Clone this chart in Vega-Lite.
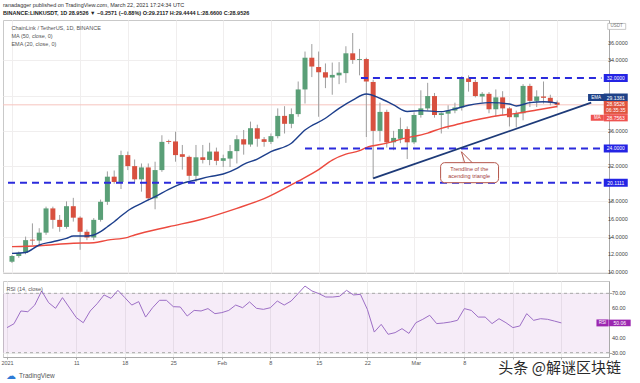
{
"$schema":"https://vega.github.io/schema/vega-lite/v6.json",
"padding":{"left":0,"top":2,"right":0,"bottom":0},
"background":"white",
"spacing":4,
"title":{"text":"ranadagger published on TradingView.com, March 22, 2021 17:24:34 UTC","subtitle":"BINANCE:LINKUSDT, 1D  28.9526 ▼ −0.2571 (−0.88%)  O:29.2117  H:29.4444  L:28.6600  C:28.9526","anchor":"start","frame":"group","font":"Liberation Sans","fontSize":5.5,"fontWeight":"normal","color":"#333333","subtitleFont":"Liberation Sans","subtitleFontSize":5.5,"subtitleColor":"#222222","subtitleFontWeight":"bold","subtitlePadding":3,"offset":3},
"resolve":{"scale":{"x":"independent","y":"independent"}},
"config":{"font":"Liberation Sans","view":{"stroke":"#c9c9c9"},"axis":{"labelFont":"Liberation Sans"}},
"datasets":{
"candles":[
{"date":"2021-01-01","o":11.15,"h":11.9,"l":11.0,"c":11.8},
{"date":"2021-01-02","o":11.8,"h":12.3,"l":11.6,"c":12.15},
{"date":"2021-01-03","o":12.15,"h":14.0,"l":12.0,"c":13.6},
{"date":"2021-01-04","o":13.65,"h":15.5,"l":13.05,"c":13.55},
{"date":"2021-01-05","o":13.55,"h":14.95,"l":13.05,"c":14.45},
{"date":"2021-01-06","o":14.45,"h":17.4,"l":14.2,"c":17.2},
{"date":"2021-01-07","o":17.2,"h":17.4,"l":14.9,"c":15.9},
{"date":"2021-01-08","o":15.9,"h":16.45,"l":14.55,"c":15.1},
{"date":"2021-01-09","o":15.1,"h":18.0,"l":14.9,"c":17.45},
{"date":"2021-01-10","o":17.45,"h":18.4,"l":15.7,"c":16.15},
{"date":"2021-01-11","o":16.15,"h":16.3,"l":12.5,"c":14.55},
{"date":"2021-01-12","o":14.55,"h":14.8,"l":13.6,"c":13.9},
{"date":"2021-01-13","o":13.9,"h":16.1,"l":13.6,"c":15.9},
{"date":"2021-01-14","o":15.9,"h":18.2,"l":15.7,"c":17.95},
{"date":"2021-01-15","o":17.95,"h":21.4,"l":17.6,"c":20.8},
{"date":"2021-01-16","o":20.8,"h":21.5,"l":20.0,"c":20.2},
{"date":"2021-01-17","o":20.2,"h":23.75,"l":19.4,"c":23.25},
{"date":"2021-01-18","o":23.25,"h":23.65,"l":21.55,"c":22.0},
{"date":"2021-01-19","o":22.0,"h":22.75,"l":20.2,"c":20.5},
{"date":"2021-01-20","o":20.5,"h":22.3,"l":19.1,"c":21.85},
{"date":"2021-01-21","o":21.85,"h":22.3,"l":18.1,"c":18.35},
{"date":"2021-01-22","o":18.35,"h":22.5,"l":17.1,"c":21.55},
{"date":"2021-01-23","o":21.55,"h":25.5,"l":21.35,"c":24.75},
{"date":"2021-01-24","o":24.85,"h":25.0,"l":24.5,"c":24.75},
{"date":"2021-01-25","o":24.8,"h":25.9,"l":22.5,"c":23.25},
{"date":"2021-01-26","o":23.35,"h":24.4,"l":21.6,"c":23.05},
{"date":"2021-01-27","o":23.05,"h":23.2,"l":20.4,"c":20.9},
{"date":"2021-01-28","o":20.9,"h":24.4,"l":20.2,"c":23.0},
{"date":"2021-01-29","o":23.0,"h":24.4,"l":22.3,"c":22.7},
{"date":"2021-01-30","o":22.7,"h":24.65,"l":22.1,"c":23.65},
{"date":"2021-01-31","o":23.65,"h":24.1,"l":22.1,"c":22.6},
{"date":"2021-02-01","o":22.6,"h":23.3,"l":21.9,"c":22.9},
{"date":"2021-02-02","o":22.85,"h":24.4,"l":21.9,"c":23.7},
{"date":"2021-02-03","o":23.7,"h":25.5,"l":22.3,"c":25.05},
{"date":"2021-02-04","o":25.05,"h":26.1,"l":23.3,"c":24.45},
{"date":"2021-02-05","o":24.45,"h":27.05,"l":24.2,"c":26.3},
{"date":"2021-02-06","o":26.3,"h":26.7,"l":24.2,"c":25.1},
{"date":"2021-02-07","o":25.05,"h":25.3,"l":24.2,"c":24.75},
{"date":"2021-02-08","o":24.75,"h":25.7,"l":24.5,"c":25.4},
{"date":"2021-02-09","o":25.4,"h":28.55,"l":25.15,"c":27.7},
{"date":"2021-02-10","o":27.7,"h":28.8,"l":25.7,"c":26.8},
{"date":"2021-02-11","o":26.8,"h":28.55,"l":26.3,"c":27.9},
{"date":"2021-02-12","o":27.9,"h":31.6,"l":27.6,"c":30.7},
{"date":"2021-02-13","o":30.7,"h":35.0,"l":29.1,"c":34.3},
{"date":"2021-02-14","o":34.3,"h":35.85,"l":32.1,"c":33.3},
{"date":"2021-02-15","o":33.25,"h":35.0,"l":27.6,"c":32.65},
{"date":"2021-02-16","o":32.65,"h":33.65,"l":30.85,"c":32.05},
{"date":"2021-02-17","o":32.05,"h":33.75,"l":30.1,"c":32.35},
{"date":"2021-02-18","o":32.3,"h":33.8,"l":31.3,"c":32.6},
{"date":"2021-02-19","o":32.55,"h":35.6,"l":31.45,"c":34.8},
{"date":"2021-02-20","o":34.8,"h":37.1,"l":33.6,"c":34.05},
{"date":"2021-02-21","o":34.05,"h":35.3,"l":32.3,"c":34.15},
{"date":"2021-02-22","o":34.15,"h":34.3,"l":25.3,"c":31.6},
{"date":"2021-02-23","o":31.55,"h":31.8,"l":20.6,"c":26.0},
{"date":"2021-02-24","o":26.0,"h":29.2,"l":24.8,"c":28.15},
{"date":"2021-02-25","o":28.15,"h":28.4,"l":24.1,"c":24.7},
{"date":"2021-02-26","o":24.7,"h":26.0,"l":23.8,"c":25.2},
{"date":"2021-02-27","o":25.1,"h":27.5,"l":24.6,"c":26.2},
{"date":"2021-02-28","o":26.2,"h":26.5,"l":22.8,"c":24.7},
{"date":"2021-03-01","o":24.7,"h":28.1,"l":24.5,"c":27.8},
{"date":"2021-03-02","o":27.8,"h":30.6,"l":27.5,"c":28.55},
{"date":"2021-03-03","o":28.55,"h":31.45,"l":28.3,"c":29.95},
{"date":"2021-03-04","o":29.95,"h":30.3,"l":27.5,"c":27.8},
{"date":"2021-03-05","o":27.8,"h":28.1,"l":25.7,"c":28.0},
{"date":"2021-03-06","o":27.95,"h":28.9,"l":26.2,"c":28.3},
{"date":"2021-03-07","o":28.3,"h":29.2,"l":28.0,"c":28.65},
{"date":"2021-03-08","o":28.65,"h":32.2,"l":28.3,"c":31.95},
{"date":"2021-03-09","o":31.95,"h":32.3,"l":30.45,"c":31.55},
{"date":"2021-03-10","o":31.55,"h":31.8,"l":29.8,"c":29.95},
{"date":"2021-03-11","o":29.9,"h":30.4,"l":29.2,"c":30.2},
{"date":"2021-03-12","o":30.2,"h":30.4,"l":28.0,"c":28.45},
{"date":"2021-03-13","o":28.45,"h":30.7,"l":27.6,"c":29.8},
{"date":"2021-03-14","o":29.8,"h":30.5,"l":27.8,"c":28.55},
{"date":"2021-03-15","o":28.55,"h":28.7,"l":26.5,"c":27.55},
{"date":"2021-03-16","o":27.55,"h":28.3,"l":26.4,"c":28.0},
{"date":"2021-03-17","o":28.0,"h":31.3,"l":27.2,"c":31.1},
{"date":"2021-03-18","o":31.1,"h":31.35,"l":28.7,"c":29.4},
{"date":"2021-03-19","o":29.4,"h":30.6,"l":28.7,"c":29.9},
{"date":"2021-03-20","o":29.9,"h":31.6,"l":29.1,"c":29.75},
{"date":"2021-03-21","o":29.75,"h":30.1,"l":28.9,"c":29.21},
{"date":"2021-03-22","o":29.2117,"h":29.4444,"l":28.66,"c":28.9526}
],
"ema":[
{"date":"2021-01-01","v":12.1},{"date":"2021-01-03","v":12.2},{"date":"2021-01-05","v":13.05},{"date":"2021-01-07","v":13.42},{"date":"2021-01-09","v":13.8},{"date":"2021-01-10","v":14.07},{"date":"2021-01-12","v":14.07},{"date":"2021-01-13","v":14.18},{"date":"2021-01-14","v":14.56},{"date":"2021-01-15","v":15.12},{"date":"2021-01-16","v":15.69},{"date":"2021-01-17","v":16.33},{"date":"2021-01-18","v":16.94},{"date":"2021-01-20","v":17.78},{"date":"2021-01-22","v":18.53},{"date":"2021-01-24","v":19.37},{"date":"2021-01-26","v":20.05},{"date":"2021-01-28","v":20.42},{"date":"2021-01-30","v":20.8},{"date":"2021-02-01","v":21.1},{"date":"2021-02-03","v":21.75},{"date":"2021-02-04","v":22.2},{"date":"2021-02-06","v":22.8},{"date":"2021-02-08","v":23.64},{"date":"2021-02-11","v":24.59},{"date":"2021-02-13","v":26.1},{"date":"2021-02-16","v":27.43},{"date":"2021-02-18","v":28.56},{"date":"2021-02-20","v":29.5},{"date":"2021-02-22","v":30.18},{"date":"2021-02-24","v":29.7},{"date":"2021-02-26","v":28.94},{"date":"2021-02-28","v":28.2},{"date":"2021-03-02","v":28.3},{"date":"2021-03-05","v":28.18},{"date":"2021-03-07","v":28.5},{"date":"2021-03-09","v":28.9},{"date":"2021-03-12","v":29.2},{"date":"2021-03-15","v":29.05},{"date":"2021-03-16","v":28.82},{"date":"2021-03-18","v":29.2},{"date":"2021-03-20","v":29.3},{"date":"2021-03-22","v":29.14}
],
"ma":[
{"date":"2021-01-01","v":12.86},{"date":"2021-01-05","v":12.97},{"date":"2021-01-10","v":13.24},{"date":"2021-01-13","v":13.3},{"date":"2021-01-15","v":13.6},{"date":"2021-01-18","v":13.92},{"date":"2021-01-19","v":14.18},{"date":"2021-01-24","v":15.12},{"date":"2021-01-29","v":16.0},{"date":"2021-02-03","v":17.21},{"date":"2021-02-07","v":18.3},{"date":"2021-02-12","v":20.3},{"date":"2021-02-15","v":21.6},{"date":"2021-02-17","v":22.69},{"date":"2021-02-19","v":23.35},{"date":"2021-02-21","v":23.75},{"date":"2021-02-22","v":24.1},{"date":"2021-02-25","v":24.6},{"date":"2021-02-27","v":25.04},{"date":"2021-03-03","v":25.75},{"date":"2021-03-05","v":26.29},{"date":"2021-03-07","v":26.67},{"date":"2021-03-10","v":27.23},{"date":"2021-03-13","v":27.69},{"date":"2021-03-16","v":27.99},{"date":"2021-03-19","v":28.37},{"date":"2021-03-22","v":28.76}
],
"rsi":[
{"date":"2021-01-01","v":46.9},{"date":"2021-01-02","v":49.5},{"date":"2021-01-03","v":58.1},{"date":"2021-01-04","v":57.6},{"date":"2021-01-05","v":62.1},{"date":"2021-01-06","v":71.6},{"date":"2021-01-07","v":63.7},{"date":"2021-01-08","v":59.9},{"date":"2021-01-09","v":67.1},{"date":"2021-01-11","v":53.6},{"date":"2021-01-12","v":50.2},{"date":"2021-01-13","v":58.1},{"date":"2021-01-14","v":63.0},{"date":"2021-01-15","v":68.9},{"date":"2021-01-16","v":66.6},{"date":"2021-01-17","v":72.0},{"date":"2021-01-18","v":67.1},{"date":"2021-01-19","v":62.1},{"date":"2021-01-20","v":64.4},{"date":"2021-01-21","v":54.0},{"date":"2021-01-22","v":60.3},{"date":"2021-01-23","v":65.3},{"date":"2021-01-24","v":65.3},{"date":"2021-01-25","v":61.0},{"date":"2021-01-26","v":60.8},{"date":"2021-01-27","v":54.7},{"date":"2021-01-28","v":58.5},{"date":"2021-01-29","v":58.1},{"date":"2021-01-30","v":59.7},{"date":"2021-01-31","v":56.3},{"date":"2021-02-01","v":57.0},{"date":"2021-02-02","v":58.5},{"date":"2021-02-03","v":62.1},{"date":"2021-02-04","v":60.3},{"date":"2021-02-05","v":64.2},{"date":"2021-02-06","v":59.9},{"date":"2021-02-07","v":59.2},{"date":"2021-02-08","v":60.3},{"date":"2021-02-09","v":64.8},{"date":"2021-02-10","v":62.1},{"date":"2021-02-11","v":64.8},{"date":"2021-02-12","v":69.8},{"date":"2021-02-13","v":74.9},{"date":"2021-02-14","v":71.6},{"date":"2021-02-15","v":69.8},{"date":"2021-02-16","v":67.5},{"date":"2021-02-17","v":67.5},{"date":"2021-02-18","v":68.0},{"date":"2021-02-19","v":72.0},{"date":"2021-02-20","v":68.9},{"date":"2021-02-21","v":69.3},{"date":"2021-02-22","v":59.2},{"date":"2021-02-23","v":43.9},{"date":"2021-02-24","v":49.1},{"date":"2021-02-25","v":42.4},{"date":"2021-02-26","v":43.5},{"date":"2021-02-27","v":46.2},{"date":"2021-02-28","v":43.0},{"date":"2021-03-01","v":50.2},{"date":"2021-03-02","v":52.5},{"date":"2021-03-03","v":55.2},{"date":"2021-03-04","v":49.6},{"date":"2021-03-05","v":50.0},{"date":"2021-03-06","v":50.7},{"date":"2021-03-07","v":51.8},{"date":"2021-03-08","v":59.7},{"date":"2021-03-09","v":58.5},{"date":"2021-03-10","v":54.0},{"date":"2021-03-11","v":54.0},{"date":"2021-03-12","v":49.6},{"date":"2021-03-13","v":52.9},{"date":"2021-03-14","v":50.2},{"date":"2021-03-15","v":46.9},{"date":"2021-03-16","v":48.0},{"date":"2021-03-17","v":56.3},{"date":"2021-03-18","v":51.8},{"date":"2021-03-19","v":52.9},{"date":"2021-03-20","v":52.5},{"date":"2021-03-21","v":51.3},{"date":"2021-03-22","v":50.06}
],
"levels":[{"v":32.0,"start":"2021-02-21T05:00:00Z"},{"v":24.0,"start":"2021-02-13T00:00:00Z"},{"v":20.1111,"start":"2020-12-31T10:00:00Z"}],
"tags":[{"name":"EMA","v":29.1381},{"name":"price","v":28.9526},{"name":"MA","v":28.7563}],
"pricelabels":[{"v":10},{"v":12},{"v":14},{"v":16},{"v":18},{"v":22},{"v":26},{"v":34},{"v":36}],
"rsilabels":[{"v":30},{"v":40},{"v":60},{"v":70}]
},
"vconcat":[
{"width":606,"height":253,
"layer":[
{"data":{"values":[{"v":28.9526}]},"mark":{"type":"rule","color":"#f6c4be","strokeWidth":1},
 "encoding":{"y":{"field":"v","type":"quantitative","title":null,"scale":{"domain":[9.87,38.58],"nice":false,"zero":false},
  "axis":{"orient":"right","title":null,"values":[10,12,14,16,18,20,22,24,26,28,30,32,34,36],"labels":false,"tickSize":3,"tickColor":"#aaaaaa","domainColor":"#aaaaaa","grid":true,"gridColor":"#f0eeee"}}}},
{"data":{"name":"candles"},"mark":{"type":"rule","color":"#9e9e9e","strokeWidth":1},
 "encoding":{"x":{"field":"date","type":"temporal","title":null,"scale":{"type":"utc","domain":[{"year":2020,"month":12,"date":31,"hours":10,"utc":true},{"year":2021,"month":3,"date":28,"hours":21,"utc":true}]},
  "axis":{"values":[{"year":2021,"month":1,"date":1,"utc":true},{"year":2021,"month":1,"date":11,"utc":true},{"year":2021,"month":1,"date":18,"utc":true},{"year":2021,"month":1,"date":25,"utc":true},{"year":2021,"month":2,"date":1,"utc":true},{"year":2021,"month":2,"date":8,"utc":true},{"year":2021,"month":2,"date":15,"utc":true},{"year":2021,"month":2,"date":22,"utc":true},{"year":2021,"month":3,"date":1,"utc":true},{"year":2021,"month":3,"date":8,"utc":true},{"year":2021,"month":3,"date":15,"utc":true},{"year":2021,"month":3,"date":22,"utc":true}],"labels":false,"ticks":false,"domain":false,"grid":true,"gridColor":"#f0eeee","title":null}},
  "y":{"field":"l","type":"quantitative","title":null,"scale":{"domain":[9.87,38.58],"nice":false,"zero":false}},"y2":{"field":"h"}}},
{"data":{"name":"candles"},"mark":{"type":"bar","size":5},
 "encoding":{"x":{"field":"date","type":"temporal","title":null,"scale":{"type":"utc","domain":[{"year":2020,"month":12,"date":31,"hours":10,"utc":true},{"year":2021,"month":3,"date":28,"hours":21,"utc":true}]}},
  "y":{"field":"o","type":"quantitative","title":null,"scale":{"domain":[9.87,38.58],"nice":false,"zero":false}},"y2":{"field":"c"},
  "color":{"condition":{"test":"datum.c >= datum.o","value":"#5a9f77"},"value":"#d8503f"}}},
{"data":{"name":"ma"},"mark":{"type":"line","color":"#ec4a3f","strokeWidth":1.4,"interpolate":"monotone"},
 "encoding":{"x":{"field":"date","type":"temporal","title":null,"scale":{"type":"utc","domain":[{"year":2020,"month":12,"date":31,"hours":10,"utc":true},{"year":2021,"month":3,"date":28,"hours":21,"utc":true}]}},
  "y":{"field":"v","type":"quantitative","title":null,"scale":{"domain":[9.87,38.58],"nice":false,"zero":false}}}},
{"data":{"name":"ema"},"mark":{"type":"line","color":"#1d3f8c","strokeWidth":1.4,"interpolate":"monotone"},
 "encoding":{"x":{"field":"date","type":"temporal","title":null,"scale":{"type":"utc","domain":[{"year":2020,"month":12,"date":31,"hours":10,"utc":true},{"year":2021,"month":3,"date":28,"hours":21,"utc":true}]}},
  "y":{"field":"v","type":"quantitative","title":null,"scale":{"domain":[9.87,38.58],"nice":false,"zero":false}}}},
{"data":{"name":"levels"},"mark":{"type":"rule","color":"#2b2bdc","strokeWidth":2,"strokeDash":[7,5]},
 "encoding":{"x":{"field":"start","type":"temporal","title":null,"scale":{"type":"utc","domain":[{"year":2020,"month":12,"date":31,"hours":10,"utc":true},{"year":2021,"month":3,"date":28,"hours":21,"utc":true}]}},
  "x2":{"datum":{"year":2021,"month":3,"date":28,"hours":12,"utc":true}},
  "y":{"field":"v","type":"quantitative","title":null,"scale":{"domain":[9.87,38.58],"nice":false,"zero":false}}}},
{"data":{"values":[{"date":"2021-02-23T00:00:00Z","v":20.6},{"date":"2021-03-27T00:00:00Z","v":29.2}]},"mark":{"type":"line","color":"#1d3a78","strokeWidth":1.8},
 "encoding":{"x":{"field":"date","type":"temporal","title":null,"scale":{"type":"utc","domain":[{"year":2020,"month":12,"date":31,"hours":10,"utc":true},{"year":2021,"month":3,"date":28,"hours":21,"utc":true}]}},
  "y":{"field":"v","type":"quantitative","title":null,"scale":{"domain":[9.87,38.58],"nice":false,"zero":false}}}},
{"data":{"values":[{"a":"2021-03-04T21:36:00Z","b":"2021-03-13T09:36:00Z","top":22.39,"bot":20.12}]},"mark":{"type":"rect","fill":"white","stroke":"#b4564b","strokeWidth":1,"cornerRadius":4},
 "encoding":{"x":{"field":"a","type":"temporal","title":null,"scale":{"type":"utc","domain":[{"year":2020,"month":12,"date":31,"hours":10,"utc":true},{"year":2021,"month":3,"date":28,"hours":21,"utc":true}]}},"x2":{"field":"b"},
  "y":{"field":"top","type":"quantitative","title":null,"scale":{"domain":[9.87,38.58],"nice":false,"zero":false}},"y2":{"field":"bot"}}},
{"data":{"values":[{"i":1,"date":"2021-03-08T10:00:00Z","v":22.39},{"i":2,"date":"2021-03-07T22:48:00Z","v":23.63},{"i":3,"date":"2021-03-09T12:45:00Z","v":22.39}]},"mark":{"type":"line","color":"#b4564b","strokeWidth":1},
 "encoding":{"x":{"field":"date","type":"temporal","title":null,"scale":{"type":"utc","domain":[{"year":2020,"month":12,"date":31,"hours":10,"utc":true},{"year":2021,"month":3,"date":28,"hours":21,"utc":true}]}},
  "y":{"field":"v","type":"quantitative","title":null,"scale":{"domain":[9.87,38.58],"nice":false,"zero":false}},"order":{"field":"i"}}},
{"data":{"values":[{"t":"Trendline of the","v":21.64},{"t":"acending triangle","v":20.91}]},"mark":{"type":"text","color":"#a3403a","fontSize":5.5,"align":"center","baseline":"middle"},
 "encoding":{"x":{"datum":{"year":2021,"month":3,"date":9,"hours":2,"minutes":24,"utc":true},"type":"temporal","scale":{"type":"utc","domain":[{"year":2020,"month":12,"date":31,"hours":10,"utc":true},{"year":2021,"month":3,"date":28,"hours":21,"utc":true}]}},
  "y":{"field":"v","type":"quantitative","title":null,"scale":{"domain":[9.87,38.58],"nice":false,"zero":false}},"text":{"field":"t"}}},
{"data":{"values":[{"t":"ChainLink / TetherUS, 1D, BINANCE","v":37.68},{"t":"MA (50, close, 0)","v":36.77},{"t":"EMA (20, close, 0)","v":35.86}]},"mark":{"type":"text","color":"#555555","fontSize":5.5,"align":"left","baseline":"middle"},
 "encoding":{"x":{"datum":{"year":2020,"month":12,"date":31,"hours":22,"utc":true},"type":"temporal","scale":{"type":"utc","domain":[{"year":2020,"month":12,"date":31,"hours":10,"utc":true},{"year":2021,"month":3,"date":28,"hours":21,"utc":true}]}},
  "y":{"field":"v","type":"quantitative","title":null,"scale":{"domain":[9.87,38.58],"nice":false,"zero":false}},"text":{"field":"t"}}},
{"data":{"name":"pricelabels"},"mark":{"type":"text","color":"#444444","fontSize":5.5,"align":"left","baseline":"middle","clip":false},
 "encoding":{"x":{"datum":{"year":2021,"month":3,"date":29,"hours":11,"utc":true},"type":"temporal","scale":{"type":"utc","domain":[{"year":2020,"month":12,"date":31,"hours":10,"utc":true},{"year":2021,"month":3,"date":28,"hours":21,"utc":true}]}},
  "y":{"field":"v","type":"quantitative","title":null,"scale":{"domain":[9.87,38.58],"nice":false,"zero":false}},"text":{"field":"v","format":".4f"}}},
{"data":{"values":[{"t":"USDT","v":37.85}]},
 "encoding":{"x":{"datum":{"year":2021,"month":3,"date":30,"hours":17,"minutes":45,"utc":true},"type":"temporal","scale":{"type":"utc","domain":[{"year":2020,"month":12,"date":31,"hours":10,"utc":true},{"year":2021,"month":3,"date":28,"hours":21,"utc":true}]}},
  "y":{"field":"v","type":"quantitative","title":null,"scale":{"domain":[9.87,38.58],"nice":false,"zero":false}}},
 "layer":[
  {"mark":{"type":"point","shape":"M-1,-0.33H1V0.33H-1Z","filled":false,"opacity":1,"size":324,"color":"#bbbbbb","strokeWidth":0.8,"fill":"white","clip":false}},
  {"mark":{"type":"text","color":"#777777","fontSize":4.5,"clip":false},"encoding":{"text":{"field":"t"}}}
 ]},
{"data":{"name":"levels"},
 "encoding":{"x":{"datum":{"year":2021,"month":3,"date":30,"hours":14,"minutes":24,"utc":true},"type":"temporal","scale":{"type":"utc","domain":[{"year":2020,"month":12,"date":31,"hours":10,"utc":true},{"year":2021,"month":3,"date":28,"hours":21,"utc":true}]}},
  "y":{"field":"v","type":"quantitative","title":null,"scale":{"domain":[9.87,38.58],"nice":false,"zero":false}}},
 "layer":[
  {"mark":{"type":"point","shape":"M-1,-0.333H1V0.333H-1Z","filled":true,"opacity":1,"size":576,"color":"#2424e4","clip":false}},
  {"mark":{"type":"text","color":"white","fontSize":5,"clip":false},"encoding":{"text":{"field":"v","format":".4f"}}}
 ]},
{"data":{"name":"tags"},"transform":[{"filter":"datum.name == 'EMA'"}],
 "encoding":{"y":{"field":"v","type":"quantitative","title":null,"scale":{"domain":[9.87,38.58],"nice":false,"zero":false}}},
 "layer":[
  {"mark":{"type":"point","shape":"M-1,-0.44H1V0.44H-1Z","filled":true,"opacity":1,"size":256,"color":"#1f4288","yOffset":-5.7,"clip":false},
   "encoding":{"x":{"datum":{"year":2021,"month":3,"date":27,"hours":17,"utc":true},"type":"temporal","scale":{"type":"utc","domain":[{"year":2020,"month":12,"date":31,"hours":10,"utc":true},{"year":2021,"month":3,"date":28,"hours":21,"utc":true}]}}}},
  {"mark":{"type":"text","text":"EMA","color":"white","fontSize":4.5,"yOffset":-5.7,"clip":false},
   "encoding":{"x":{"datum":{"year":2021,"month":3,"date":27,"hours":17,"utc":true},"type":"temporal","scale":{"type":"utc","domain":[{"year":2020,"month":12,"date":31,"hours":10,"utc":true},{"year":2021,"month":3,"date":28,"hours":21,"utc":true}]}}}},
  {"mark":{"type":"point","shape":"M-1,-0.333H1V0.333H-1Z","filled":true,"opacity":1,"size":576,"color":"#1f4288","yOffset":-5.7,"clip":false},
   "encoding":{"x":{"datum":{"year":2021,"month":3,"date":30,"hours":14,"minutes":24,"utc":true},"type":"temporal","scale":{"type":"utc","domain":[{"year":2020,"month":12,"date":31,"hours":10,"utc":true},{"year":2021,"month":3,"date":28,"hours":21,"utc":true}]}}}},
  {"mark":{"type":"text","color":"white","fontSize":5,"yOffset":-5.7,"clip":false},
   "encoding":{"x":{"datum":{"year":2021,"month":3,"date":30,"hours":14,"minutes":24,"utc":true},"type":"temporal","scale":{"type":"utc","domain":[{"year":2020,"month":12,"date":31,"hours":10,"utc":true},{"year":2021,"month":3,"date":28,"hours":21,"utc":true}]}},"text":{"field":"v","format":".4f"}}}
 ]},
{"data":{"name":"tags"},"transform":[{"filter":"datum.name == 'price'"}],
 "encoding":{"x":{"datum":{"year":2021,"month":3,"date":30,"hours":14,"minutes":24,"utc":true},"type":"temporal","scale":{"type":"utc","domain":[{"year":2020,"month":12,"date":31,"hours":10,"utc":true},{"year":2021,"month":3,"date":28,"hours":21,"utc":true}]}},
  "y":{"field":"v","type":"quantitative","title":null,"scale":{"domain":[9.87,38.58],"nice":false,"zero":false}}},
 "layer":[
  {"mark":{"type":"point","shape":"M-1,-0.54H1V0.54H-1Z","filled":true,"opacity":1,"size":576,"color":"#e0533e","yOffset":2.6,"clip":false}},
  {"mark":{"type":"text","color":"white","fontSize":5,"yOffset":-0.4,"clip":false},"encoding":{"text":{"field":"v","format":".4f"}}},
  {"mark":{"type":"text","text":"06:35:35","color":"white","fontSize":5,"yOffset":5.6,"clip":false}}
 ]},
{"data":{"name":"tags"},"transform":[{"filter":"datum.name == 'MA'"}],
 "encoding":{"y":{"field":"v","type":"quantitative","title":null,"scale":{"domain":[9.87,38.58],"nice":false,"zero":false}}},
 "layer":[
  {"mark":{"type":"point","shape":"M-1,-0.46H1V0.46H-1Z","filled":true,"opacity":1,"size":169,"color":"#ef5350","yOffset":11.2,"clip":false},
   "encoding":{"x":{"datum":{"year":2021,"month":3,"date":27,"hours":21,"minutes":20,"utc":true},"type":"temporal","scale":{"type":"utc","domain":[{"year":2020,"month":12,"date":31,"hours":10,"utc":true},{"year":2021,"month":3,"date":28,"hours":21,"utc":true}]}}}},
  {"mark":{"type":"text","text":"MA","color":"white","fontSize":4.5,"yOffset":11.2,"clip":false},
   "encoding":{"x":{"datum":{"year":2021,"month":3,"date":27,"hours":21,"minutes":20,"utc":true},"type":"temporal","scale":{"type":"utc","domain":[{"year":2020,"month":12,"date":31,"hours":10,"utc":true},{"year":2021,"month":3,"date":28,"hours":21,"utc":true}]}}}},
  {"mark":{"type":"point","shape":"M-1,-0.3H1V0.3H-1Z","filled":true,"opacity":1,"size":576,"color":"#ef5350","yOffset":11.2,"clip":false},
   "encoding":{"x":{"datum":{"year":2021,"month":3,"date":30,"hours":14,"minutes":24,"utc":true},"type":"temporal","scale":{"type":"utc","domain":[{"year":2020,"month":12,"date":31,"hours":10,"utc":true},{"year":2021,"month":3,"date":28,"hours":21,"utc":true}]}}}},
  {"mark":{"type":"text","color":"white","fontSize":5,"yOffset":11.2,"clip":false},
   "encoding":{"x":{"datum":{"year":2021,"month":3,"date":30,"hours":14,"minutes":24,"utc":true},"type":"temporal","scale":{"type":"utc","domain":[{"year":2020,"month":12,"date":31,"hours":10,"utc":true},{"year":2021,"month":3,"date":28,"hours":21,"utc":true}]}},"text":{"field":"v","format":".4f"}}}
 ]}
]},
{"width":606,"height":76,
"layer":[
{"data":{"values":[{"hi":70,"lo":30}]},"mark":{"type":"rect","color":"#9c27b0","opacity":0.09},
 "encoding":{"x":{"datum":{"year":2020,"month":12,"date":31,"hours":10,"utc":true},"type":"temporal","scale":{"type":"utc","domain":[{"year":2020,"month":12,"date":31,"hours":10,"utc":true},{"year":2021,"month":3,"date":28,"hours":21,"utc":true}]}},
  "x2":{"datum":{"year":2021,"month":3,"date":28,"hours":21,"utc":true}},
  "y":{"field":"hi","type":"quantitative","title":null,"scale":{"domain":[27.1,78.3],"nice":false,"zero":false},
   "axis":{"orient":"right","title":null,"values":[30,40,50,60,70],"labels":false,"tickSize":3,"tickColor":"#aaaaaa","domainColor":"#aaaaaa","grid":true,"gridColor":"#eeeeee"}},
  "y2":{"field":"lo"}}},
{"data":{"values":[{"v":70},{"v":30}]},"mark":{"type":"rule","color":"#a8a8a8","strokeDash":[3,3],"strokeWidth":1},
 "encoding":{"y":{"field":"v","type":"quantitative","title":null,"scale":{"domain":[27.1,78.3],"nice":false,"zero":false}}}},
{"data":{"name":"rsi"},"mark":{"type":"line","color":"#9d6fc6","strokeWidth":1},
 "encoding":{"x":{"field":"date","type":"temporal","title":null,"scale":{"type":"utc","domain":[{"year":2020,"month":12,"date":31,"hours":10,"utc":true},{"year":2021,"month":3,"date":28,"hours":21,"utc":true}]},
  "axis":{"values":[{"year":2021,"month":1,"date":1,"utc":true},{"year":2021,"month":1,"date":11,"utc":true},{"year":2021,"month":1,"date":18,"utc":true},{"year":2021,"month":1,"date":25,"utc":true},{"year":2021,"month":2,"date":1,"utc":true},{"year":2021,"month":2,"date":8,"utc":true},{"year":2021,"month":2,"date":15,"utc":true},{"year":2021,"month":2,"date":22,"utc":true},{"year":2021,"month":3,"date":1,"utc":true},{"year":2021,"month":3,"date":8,"utc":true},{"year":2021,"month":3,"date":15,"utc":true},{"year":2021,"month":3,"date":22,"utc":true}],
   "labelExpr":"utcmonth(datum.value) == 2 && utcdate(datum.value) >= 15 ? '' : (utcdate(datum.value) == 1 ? (utcmonth(datum.value) == 0 ? '2021' : utcFormat(datum.value, '%b')) : utcFormat(datum.value, '%-d'))","labelFontSize":5.5,"labelColor":"#555555","labelFlush":false,"labelOverlap":false,"tickSize":2,"tickColor":"#aaaaaa","domainColor":"#aaaaaa","grid":true,"gridColor":"#eeeeee","title":null,"labelPadding":1}},
  "y":{"field":"v","type":"quantitative","title":null,"scale":{"domain":[27.1,78.3],"nice":false,"zero":false}}}},
{"data":{"name":"rsilabels"},"mark":{"type":"text","color":"#444444","fontSize":5.5,"align":"left","baseline":"middle","clip":false},
 "encoding":{"x":{"datum":{"year":2021,"month":3,"date":29,"hours":7,"utc":true},"type":"temporal","scale":{"type":"utc","domain":[{"year":2020,"month":12,"date":31,"hours":10,"utc":true},{"year":2021,"month":3,"date":28,"hours":21,"utc":true}]}},
  "y":{"field":"v","type":"quantitative","title":null,"scale":{"domain":[27.1,78.3],"nice":false,"zero":false}},"text":{"field":"v","format":".2f"}}},
{"data":{"values":[{"t":"RSI (14, close)","v":72.9}]},"mark":{"type":"text","color":"#555555","fontSize":5.5,"align":"left","baseline":"middle"},
 "encoding":{"x":{"datum":{"year":2020,"month":12,"date":31,"hours":22,"utc":true},"type":"temporal","scale":{"type":"utc","domain":[{"year":2020,"month":12,"date":31,"hours":10,"utc":true},{"year":2021,"month":3,"date":28,"hours":21,"utc":true}]}},
  "y":{"field":"v","type":"quantitative","title":null,"scale":{"domain":[27.1,78.3],"nice":false,"zero":false}},"text":{"field":"t"}}},
{"data":{"values":[{"v":50.06}]},
 "encoding":{"y":{"field":"v","type":"quantitative","title":null,"scale":{"domain":[27.1,78.3],"nice":false,"zero":false}}},
 "layer":[
  {"mark":{"type":"point","shape":"M-1,-0.58H1V0.58H-1Z","filled":true,"opacity":1,"size":144,"color":"#9c27b0","clip":false},
   "encoding":{"x":{"datum":{"year":2021,"month":3,"date":27,"hours":22,"minutes":20,"utc":true},"type":"temporal","scale":{"type":"utc","domain":[{"year":2020,"month":12,"date":31,"hours":10,"utc":true},{"year":2021,"month":3,"date":28,"hours":21,"utc":true}]}}}},
  {"mark":{"type":"text","text":"RSI","color":"white","fontSize":4.5,"clip":false},
   "encoding":{"x":{"datum":{"year":2021,"month":3,"date":27,"hours":22,"minutes":20,"utc":true},"type":"temporal","scale":{"type":"utc","domain":[{"year":2020,"month":12,"date":31,"hours":10,"utc":true},{"year":2021,"month":3,"date":28,"hours":21,"utc":true}]}}}},
  {"mark":{"type":"point","shape":"M-1,-0.3H1V0.3H-1Z","filled":true,"opacity":1,"size":484,"color":"#9c27b0","clip":false},
   "encoding":{"x":{"datum":{"year":2021,"month":3,"date":30,"hours":10,"utc":true},"type":"temporal","scale":{"type":"utc","domain":[{"year":2020,"month":12,"date":31,"hours":10,"utc":true},{"year":2021,"month":3,"date":28,"hours":21,"utc":true}]}}}},
  {"mark":{"type":"text","color":"white","fontSize":5,"clip":false},
   "encoding":{"x":{"datum":{"year":2021,"month":3,"date":30,"hours":10,"utc":true},"type":"temporal","scale":{"type":"utc","domain":[{"year":2020,"month":12,"date":31,"hours":10,"utc":true},{"year":2021,"month":3,"date":28,"hours":21,"utc":true}]}},"text":{"field":"v","format":".2f"}}}
 ]},
{"data":{"values":[{"t":"头条 @解谜区块链","v":19.4}]},"mark":{"type":"text","font":"Noto Sans CJK SC","fontSize":15,"color":"#2a2a2a","align":"center","baseline":"middle","clip":false},
 "encoding":{"x":{"datum":{"year":2021,"month":3,"date":21,"hours":18,"utc":true},"type":"temporal","scale":{"type":"utc","domain":[{"year":2020,"month":12,"date":31,"hours":10,"utc":true},{"year":2021,"month":3,"date":28,"hours":21,"utc":true}]}},
  "y":{"field":"v","type":"quantitative","title":null,"scale":{"domain":[27.1,78.3],"nice":false,"zero":false}},"text":{"field":"t"}}},
{"data":{"values":[{"t":"TradingView","v":14.3}]},"mark":{"type":"text","fontSize":6.5,"color":"#555555","align":"left","baseline":"middle","clip":false},
 "encoding":{"x":{"datum":{"year":2021,"month":1,"date":2,"hours":17,"minutes":30,"utc":true},"type":"temporal","scale":{"type":"utc","domain":[{"year":2020,"month":12,"date":31,"hours":10,"utc":true},{"year":2021,"month":3,"date":28,"hours":21,"utc":true}]}},
  "y":{"field":"v","type":"quantitative","title":null,"scale":{"domain":[27.1,78.3],"nice":false,"zero":false}},"text":{"field":"t"}}},
{"data":{"values":[{"t":"☁","v":14.6}]},"mark":{"type":"text","fontSize":10,"color":"#2e7bd6","align":"center","baseline":"middle","clip":false},
 "encoding":{"x":{"datum":{"year":2021,"month":1,"date":1,"hours":14,"utc":true},"type":"temporal","scale":{"type":"utc","domain":[{"year":2020,"month":12,"date":31,"hours":10,"utc":true},{"year":2021,"month":3,"date":28,"hours":21,"utc":true}]}},
  "y":{"field":"v","type":"quantitative","title":null,"scale":{"domain":[27.1,78.3],"nice":false,"zero":false}},"text":{"field":"t"}}}
]}
]
}
